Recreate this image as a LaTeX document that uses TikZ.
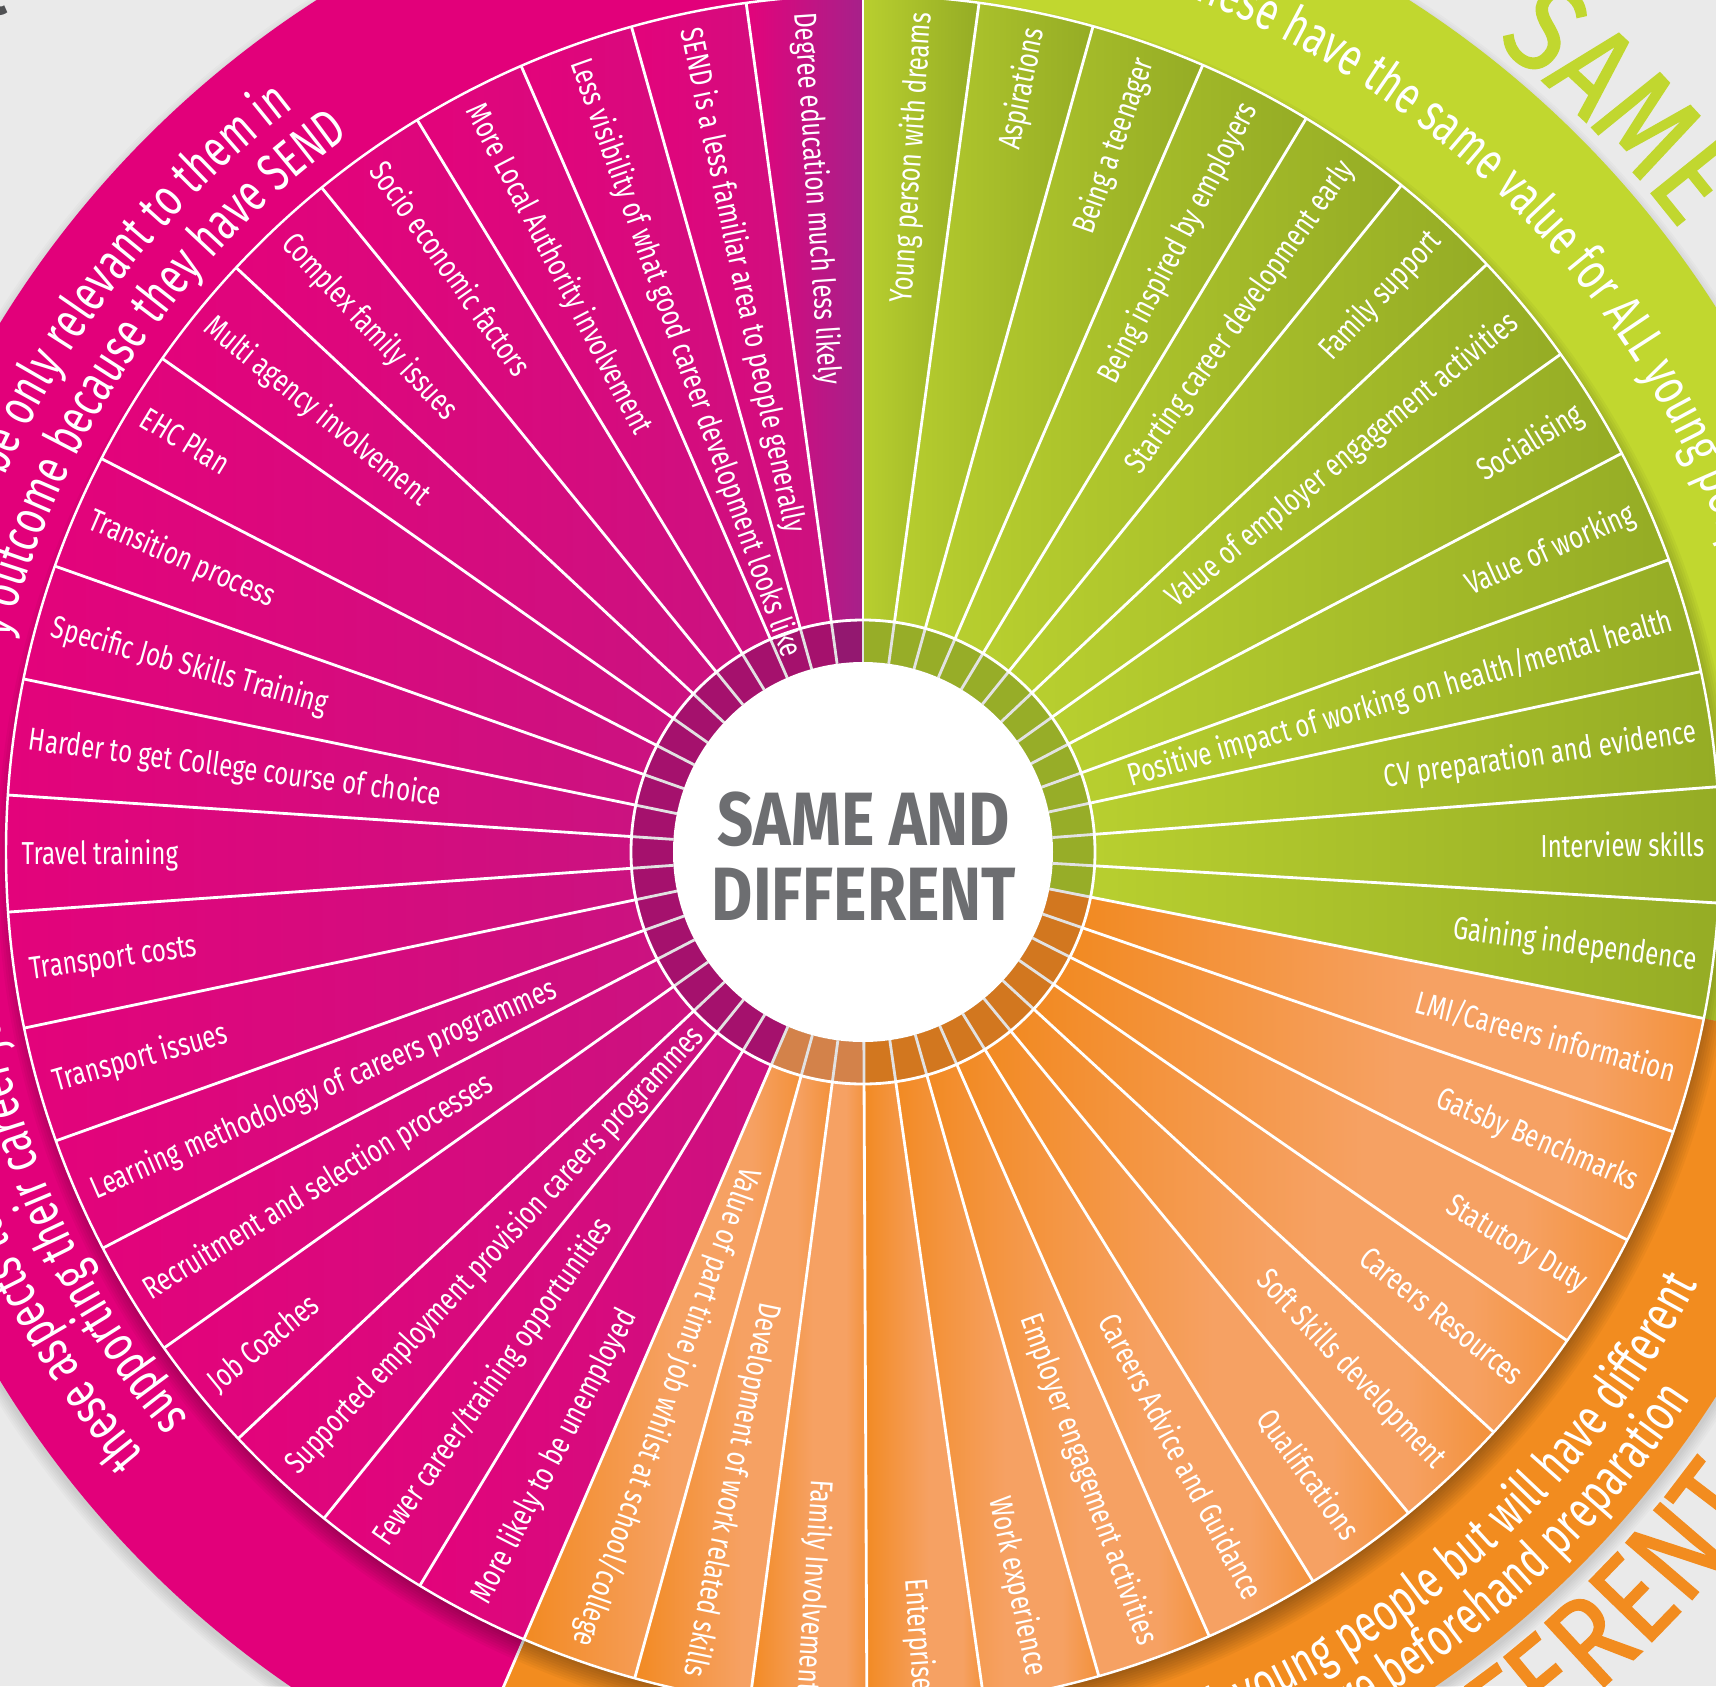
\documentclass[tikz,border=0pt]{standalone}
\usepackage{fontspec}
\setmainfont{Fira Sans}[FakeStretch=0.76]
\newfontfamily\hubfont{Fira Sans}[FakeStretch=0.84]
\newfontfamily\bandface{Fira Sans}[FakeStretch=0.72]
\newfontfamily\wordfont{Fira Sans}[FakeStretch=0.86, FakeBold=1.2]
\usetikzlibrary{decorations.text}

\definecolor{paper}{HTML}{EAEAEA}
\definecolor{hubgrey}{HTML}{6D6E71}
\definecolor{cornergrey}{HTML}{505153}
\definecolor{ringline}{HTML}{E2E2E2}
% green part
\definecolor{limeband}{HTML}{C1D72F}
\definecolor{limelight}{HTML}{B8CF2F}
\definecolor{limedark}{HTML}{95AC25}
\definecolor{limering}{HTML}{97AD28}
% orange part
\definecolor{oraband}{HTML}{F28C1F}
\definecolor{oradeep}{HTML}{F28A22}
\definecolor{orapale}{HTML}{F6A163}
\definecolor{oraend}{HTML}{F3913A}
\definecolor{oraring}{HTML}{D2771F}
\definecolor{oraringpale}{HTML}{D3824A}
% magenta part
\definecolor{magband}{HTML}{E2007A}
\definecolor{magtop}{HTML}{E3037B}
\definecolor{magdeep}{HTML}{CB1280}
\definecolor{magpurple}{HTML}{A6218A}
\definecolor{magring}{HTML}{A5116D}
\definecolor{magringtop}{HTML}{931870}

\pgfdeclarehorizontalshading{oraslice}{100bp}{color(0bp)=(oradeep); color(25bp)=(oradeep); color(52bp)=(orapale); color(66bp)=(orapale); color(75bp)=(oraend); color(100bp)=(oraend)}

\newcommand\labfont{\fontsize{9.05}{10}\selectfont}
\newcommand\bandfont{\bandface\fontsize{15.2}{17}\selectfont\color{white}}
\newcommand\wordsize{\wordfont\fontsize{36}{40}\selectfont}

\begin{document}
\begin{tikzpicture}[x=0.1mm, y=0.1mm,
    sep/.style={white, line width=0.8pt},
    ringsep/.style={ringline, line width=0.8pt},
    lab/.style={text=white, font=\labfont, inner sep=0pt, text height=6.3pt, text depth=0pt}]
  \def\gs{7.7846}% green slice angle
  \def\os{7.8538}% orange slice angle
  \def\ms{7.835}% magenta slice angle
  \coordinate (Hub) at (0,0);
  \useasboundingbox (-863,-834) rectangle (853,852);
  \clip (-863,-834) rectangle (853,852);
  \fill[paper] (-863,-834) rectangle (853,852);% Paper behind the wheel

  % outer band
  \foreach \k in {0,...,5}{\fill[black, opacity=0.02] (0,-6) circle[radius=1012+2*\k];}
  \fill[limeband] (Hub) -- (90:1012) arc[start angle=90, end angle=-11.2, radius=1012] -- cycle;
  \fill[oraband] (Hub) -- (-11.2:1012) arc[start angle=-11.2, end angle=-113.3, radius=1012] -- cycle;
  \fill[magband] (Hub) -- (90:1012) arc[start angle=90, end angle=246.7, radius=1012] -- cycle;
  \draw[sep] (246.7:857) -- (246.7:1012);
  \foreach \k in {0,...,10}{\fill[black, opacity=0.035] (4,-12) circle[radius=846+2.4*\k];}% Shadow of the wheel

  % slices
  \foreach \i in {0,...,12}{
    \pgfmathsetmacro\aa{90-\i*\gs}
    \pgfmathsetmacro\ab{90-(\i+1)*\gs}
    \path[left color=limelight, right color=limedark] (\aa:232) -- (\aa:857)
      arc[start angle=\aa, end angle=\ab, radius=857] -- (\ab:232)
      arc[start angle=\ab, end angle=\aa, radius=232] -- cycle;
  }
  \foreach \k in {0,...,12}{
    \pgfmathsetmacro\aa{-11.2-\k*\os}
    \pgfmathsetmacro\ab{-11.2-(\k+1)*\os}
    \shade[shading=oraslice] (\aa:232) -- (\aa:857)
      arc[start angle=\aa, end angle=\ab, radius=857] -- (\ab:232)
      arc[start angle=\ab, end angle=\aa, radius=232] -- cycle;
  }
  \foreach \j in {0,...,19}{
    \pgfmathsetmacro\aa{90+\j*\ms}
    \pgfmathsetmacro\ab{90+(\j+1)*\ms}
    \path[left color=magtop, right color=magdeep] (\aa:232) -- (\aa:857)
      arc[start angle=\aa, end angle=\ab, radius=857] -- (\ab:232)
      arc[start angle=\ab, end angle=\aa, radius=232] -- cycle;
  }
  \path[left color=magtop, right color=magpurple] (90:232) -- (90:857)
    arc[start angle=90, end angle=90+\ms, radius=857] -- (90+\ms:232)
    arc[start angle=90+\ms, end angle=90, radius=232] -- cycle;

  % inner ring
  \fill[limering] (90:190) -- (90:232) arc[start angle=90, end angle=-11.2, radius=232]
    -- (-11.2:190) arc[start angle=-11.2, end angle=90, radius=190] -- cycle;
  \fill[oraring] (-11.2:190) -- (-11.2:232) arc[start angle=-11.2, end angle=-90, radius=232]
    -- (-90:190) arc[start angle=-90, end angle=-11.2, radius=190] -- cycle;
  \fill[oraringpale] (-90:190) -- (-90:232) arc[start angle=-90, end angle=-113.3, radius=232]
    -- (-113.3:190) arc[start angle=-113.3, end angle=-90, radius=190] -- cycle;
  \fill[magring] (90:190) -- (90:232) arc[start angle=90, end angle=246.7, radius=232]
    -- (246.7:190) arc[start angle=246.7, end angle=90, radius=190] -- cycle;
  \fill[magringtop] (90:190) -- (90:232) arc[start angle=90, end angle=90+\ms, radius=232]
    -- (90+\ms:190) arc[start angle=90+\ms, end angle=90, radius=190] -- cycle;

  % separators
  \foreach \i in {0,...,13}{
    \pgfmathsetmacro\b{90-\i*\gs}
    \draw[ringsep] (\b:190) -- (\b:232);
    \draw[sep] (\b:232) -- (\b:857);
  }
  \foreach \k in {1,...,13}{
    \pgfmathsetmacro\b{-11.2-\k*\os}
    \draw[ringsep] (\b:190) -- (\b:232);
    \draw[sep] (\b:232) -- (\b:857);
  }
  \foreach \j in {1,...,19}{
    \pgfmathsetmacro\b{90+\j*\ms}
    \draw[ringsep] (\b:190) -- (\b:232);
    \draw[sep] (\b:232) -- (\b:857);
  }
  \draw[sep] (Hub) circle[radius=232];
  \draw[white, line width=0.7pt] (Hub) circle[radius=857];% Rim of the wheel
  \fill[white] (Hub) circle[radius=190];

  \node[font=\hubfont\bfseries\fontsize{21.5}{21.3}\selectfont, text=hubgrey, align=center, inner sep=0pt]
    (hubtext) at (1,-4) {SAME AND\\DIFFERENT};

  % labels
  \foreach \t [count=\n from 0] in {Young person with dreams,Aspirations,Being a teenager,%
      Being inspired by employers,Starting career development early,Family support,%
      Value of employer engagement activities,Socialising,Value of working,%
      Positive impact of working on health/mental health,CV preparation and evidence,%
      Interview skills,Gaining independence}{
    \pgfmathsetmacro\mid{90-(\n+0.5)*\gs}
    \node[lab, anchor=east, rotate=\mid] (g\n) at (\mid:842) {\t};
  }
  \foreach \t [count=\n from 0] in {LMI/Careers information,Gatsby Benchmarks,Statutory Duty,%
      Careers Resources,Soft Skills development,Qualifications,Careers Advice and Guidance,%
      Employer engagement activities,Work experience,Enterprise,Family Involvement,%
      Development of work related skills,Value of part time job whilst at school/college}{
    \pgfmathsetmacro\mid{-11.2-(\n+0.5)*\os}
    \node[lab, anchor=east, rotate=\mid] (o\n) at (\mid:842) {\t};
  }
  \foreach \t [count=\n from 0] in {Degree education much less likely,%
      SEND is a less familiar area to people generally,%
      Less visibility of what good career development looks like,%
      More Local Authority involvement,Socio economic factors,Complex family issues,%
      Multi agency involvement,EHC Plan,Transition process,Specific Job Skills Training,%
      Harder to get College course of choice,Travel training,Transport costs,%
      Transport issues,Learning methodology of careers programmes,%
      Recruitment and selection processes,Job Coaches,%
      Supported employment provision careers programmes,%
      Fewer career/training opportunities,More likely to be unemployed}{
    \pgfmathsetmacro\mid{90+(\n+0.5)*\ms}
    \pgfmathsetmacro\rot{\mid-180}
    \node[lab, anchor=west, rotate=\rot] (m\n) at (\mid:842) {\t};
  }

  % band texts
  \path[decorate, decoration={text along path, text align=left,
    text={|\bandfont|These have the same value for ALL young people}}]
    (70:915) arc[start angle=70, end angle=0, radius=915];
  \path[decorate, decoration={text along path, text align=right,
    text={|\bandfont|ALL young people but will have different}}]
    (-100:940) arc[start angle=-100, end angle=-27.4, radius=940];
  \path[decorate, decoration={text along path, text align=right,
    text={|\bandfont|more beforehand preparation}}]
    (-100:992) arc[start angle=-100, end angle=-33.4, radius=992];
  \path[decorate, decoration={text along path, text align=right,
    text={|\bandfont|be only relevant to them in}}]
    (175:937) arc[start angle=175, end angle=127.4, radius=937];
  \path[decorate, decoration={text along path, text align=right,
    text={|\bandfont|y outcome because they have SEND}}]
    (180:881) arc[start angle=180, end angle=125.65, radius=881];
  \path[decorate, decoration={text along path, text align=left,
    text={|\bandfont|these aspects to}}]
    (220:938) arc[start angle=220, end angle=160, radius=938];
  \path[decorate, decoration={text along path, text align=left,
    text={|\bandfont|supporting their career jo}}]
    (220:881) arc[start angle=220, end angle=160, radius=881];

  % big words outside
  \path[decorate, decoration={text along path, text align=left,
    text={|\wordsize\color{limeband}|SAME}}]
    (52:1027) arc[start angle=52, end angle=0, radius=1027];
  \path[decorate, decoration={text along path, text align=right,
    text={|\wordsize\color{oraband}|DIFFERENT}}]
    (-110:1116) arc[start angle=-110, end angle=-35.9, radius=1116];

  \node[font=\hubfont\bfseries\fontsize{20}{20}\selectfont, text=cornergrey, anchor=base east, inner sep=0pt]
    (corner) at (-855,838) {t};
\end{tikzpicture}
\end{document}
